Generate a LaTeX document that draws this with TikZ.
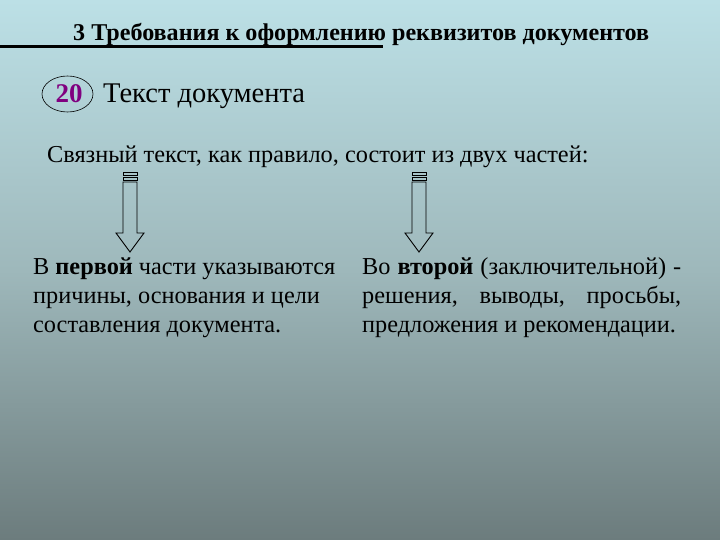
\documentclass[tikz,border=0pt]{standalone}
\usepackage{fontspec}
\usetikzlibrary{shapes.geometric}
\setmainfont{Liberation Serif}
\definecolor{bgtop}{RGB}{188,224,230}
\definecolor{bgmid}{RGB}{158,184,187}
\definecolor{bgbot}{RGB}{108,124,125}
\definecolor{numcol}{RGB}{128,0,128}
\tikzset{
  body/.style={anchor=base west, inner sep=0pt, font=\fontsize{24.3}{28}\selectfont},
  arrowline/.style={draw=black, line width=0.9pt, line join=miter},
}
\begin{document}
\begin{tikzpicture}[x=1pt,y=-1pt]
\shade[top color=bgtop, bottom color=bgbot, middle color=bgmid] (0,0) rectangle (720,540);
\useasboundingbox (0,0) rectangle (720,540);
% title
\node[anchor=base west, inner sep=0pt, font=\fontsize{24.1}{28}\selectfont\bfseries] (title) at (73,41) {3 Требования к оформлению реквизитов документов};
\draw[line width=2.5pt] (0,46.5) -- (383,46.5);
% number
\node[draw, ellipse, minimum width=51pt, minimum height=36pt, inner sep=0pt, line width=0.6pt] (num) at (67.5,94) {};
\node[anchor=base, inner sep=0pt, font=\fontsize{27}{30}\selectfont\bfseries, text=numcol] (numtxt) at (69,103) {20};
\node[anchor=base west, inner sep=0pt, font=\fontsize{28.5}{32}\selectfont] (head) at (103,103) {Текст документа};
% intro
\node[body] (intro) at (47,163) {Связный текст, как правило, состоит из двух частей:};
% arrows
\foreach \cx/\nm in {130/a1, 419/a2}{
  \coordinate (\nm) at (\cx,172);
  \draw[arrowline] ([xshift=-7pt]\nm) rectangle ([xshift=7pt,yshift=-3pt]\nm);
  \draw[arrowline] ([xshift=-7pt,yshift=-5pt]\nm) rectangle ([xshift=7pt,yshift=-8pt]\nm);
  \draw[arrowline] ([xshift=-7pt,yshift=-10pt]\nm) -- ([xshift=-7pt,yshift=-61pt]\nm) -- ([xshift=-14pt,yshift=-61pt]\nm)
     -- ([yshift=-80pt]\nm) -- ([xshift=14pt,yshift=-61pt]\nm) -- ([xshift=7pt,yshift=-61pt]\nm) -- ([xshift=7pt,yshift=-10pt]\nm) -- cycle;
}
% left block
\node[body] (l1) at (33,274) {В \textbf{первой} части указываются};
\node[body] (l2) at (33,303) {причины, основания и цели};
\node[body] (l3) at (33,332) {составления документа.};
% right block
\node[body] (r1) at (362,274) {\makebox[319pt][s]{Во \textbf{второй} (заключительной) -}};
\node[body] (r2) at (362,303) {\makebox[319pt][s]{решения, выводы, просьбы,}};
\node[body] (r3) at (362,332) {предложения и рекомендации.};
\end{tikzpicture}
\end{document}
